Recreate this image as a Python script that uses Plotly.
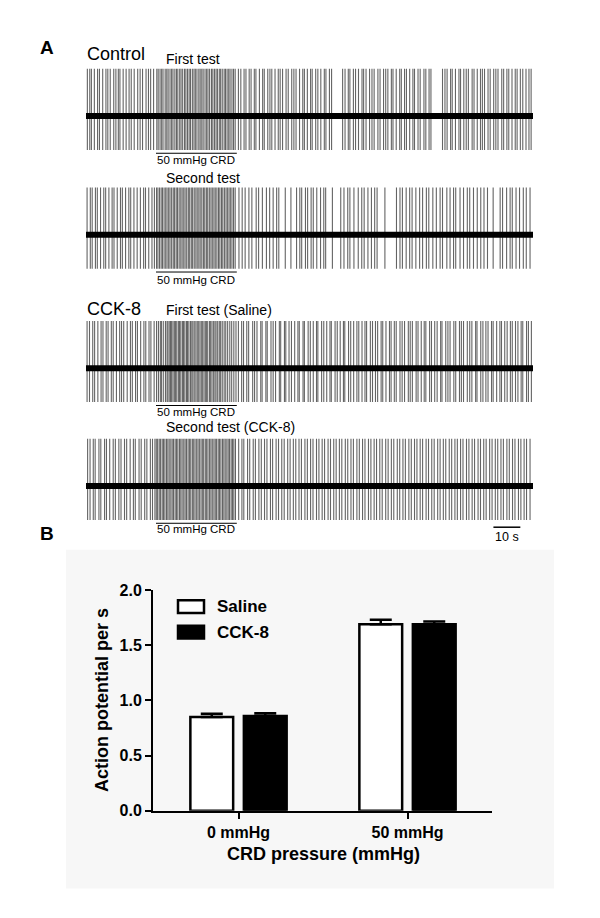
import plotly.graph_objects as go

W, H = 600, 918
FONT = "Liberation Sans, Arial, sans-serif"

# ---------------- Panel A data: spike times (s) ----------------
trace_labels = ["Control", "", "CCK-8", ""]
trace_titles = ["First test", "Second test", "First test (Saline)", "Second test (CCK-8)"]
crd_start, crd_end = 26.0, 56.0          # 50 mmHg CRD period (s)
crd_label = "50 mmHg CRD"
scale_bar = (151.3, 161.3)              # 10 s scale bar
scale_label = "10 s"
record_length = 166.0

spikes_control_1 = [
    0.5, 1.4, 2.0, 3.1, 4.3, 5.0, 6.2, 7.4, 8.1, 9.0, 10.3, 11.1, 12.0, 12.6, 13.8, 14.9, 16.0, 16.8,
    17.9, 19.2, 20.1, 21.0, 22.3, 23.2, 24.0, 25.1,
    26.3, 26.8, 27.5, 28.1, 28.6, 29.4, 30.0, 30.5, 31.2, 31.8, 32.3, 33.0, 33.6, 34.1, 34.8, 35.3,
    35.9, 36.6, 37.1, 37.7, 38.3, 38.8, 39.5, 40.1, 40.6, 41.2, 41.9, 42.4, 43.0, 43.5, 44.2, 44.8,
    45.3, 45.9, 46.6, 47.1, 47.7, 48.3, 48.8, 49.5, 50.0, 50.6, 51.3, 51.8, 52.4, 53.0, 53.5, 54.2,
    54.8, 55.4,
    56.6, 57.5, 58.7, 59.4, 60.6, 61.3, 62.5, 63.1, 64.4, 65.6, 66.2, 67.5, 68.3, 69.0, 70.2, 71.4,
    72.1, 73.0, 74.3, 75.1, 76.4, 77.2, 78.0, 79.3, 80.5, 81.1, 82.2, 83.4, 84.0, 85.3, 86.1, 87.2,
    88.5, 89.1, 90.4, 91.2, 95.3, 96.2, 97.4, 98.0, 99.3, 100.1, 101.2, 102.5, 103.1, 104.0, 105.3,
    106.2, 107.0, 108.4, 109.2, 110.5, 111.3, 112.1, 113.4, 114.0, 115.2, 116.5, 117.1, 118.3, 119.0,
    120.2, 121.4, 122.0, 123.3, 124.1, 125.5, 126.2, 127.4, 128.1, 132.4, 133.3, 134.1, 135.4, 136.0,
    137.2, 138.5, 139.1, 140.3, 141.2, 142.0, 143.4, 144.1, 145.3, 146.5, 147.2, 148.0, 149.3, 150.1,
    151.4, 152.2, 153.0, 154.4, 155.1, 156.3, 157.0, 158.2, 159.4, 160.1, 161.3, 162.2, 163.4, 164.5,
    165.3,
]
spikes_control_2 = [
    0.4, 1.6, 2.3, 3.5, 4.2, 5.4, 6.6, 7.3, 8.5, 9.7, 10.4, 11.6, 12.8, 13.5, 14.7, 15.9, 16.6, 17.8,
    19.0, 20.2, 21.4, 22.1, 23.3, 24.5, 25.4,
    26.2, 26.7, 27.3, 27.9, 28.4, 29.0, 29.6, 30.1, 30.7, 31.2, 31.8, 32.4, 32.9, 33.5, 34.0, 34.6,
    35.2, 35.7, 36.3, 36.8, 37.4, 38.0, 38.5, 39.1, 39.6, 40.2, 40.8, 41.3, 41.9, 42.4, 43.0, 43.6,
    44.1, 44.7, 45.2, 45.8, 46.4, 46.9, 47.5, 48.0, 48.6, 49.2, 49.7, 50.3, 50.8, 51.4, 52.0, 52.5,
    53.1, 53.6, 54.2, 54.8, 55.4,
    56.8, 58.0, 59.1, 60.5, 61.6, 63.2, 64.1, 65.5, 67.0, 68.2, 69.5, 70.8, 71.6, 74.0, 76.1, 78.2,
    79.4, 80.1, 81.5, 82.3, 83.6, 84.4, 85.7, 87.1, 88.3, 89.0, 91.5, 94.6, 95.8, 97.2, 98.0, 99.5,
    101.1, 102.4, 103.3, 104.7, 106.0, 107.2, 108.1, 111.0, 115.3, 116.6, 117.5, 118.9, 120.2, 121.1,
    122.5, 123.9, 125.0, 126.4, 127.3, 128.8, 130.1, 131.5, 132.4, 134.0, 135.2, 136.5, 137.3, 138.9,
    140.2, 141.6, 142.5, 143.9, 145.3, 146.6, 147.8, 149.1, 151.2, 153.8, 154.7, 156.2, 157.5, 158.3,
    159.7, 161.0, 162.4, 163.5, 164.9,
]
spikes_cck_1 = [
    0.4, 1.3, 2.5, 3.2, 4.4, 5.6, 6.3, 7.5, 8.2, 9.4, 10.1, 11.3, 12.5, 13.2, 14.0, 15.3, 16.5, 17.2,
    18.4, 19.1, 20.3, 21.5, 22.2, 23.4, 24.1, 25.3,
    26.2, 26.9, 27.6, 28.0, 28.7, 29.5, 30.1, 30.4, 30.9, 31.4, 31.8, 32.3, 32.8, 33.2, 33.7, 34.3,
    34.7, 35.2, 35.8, 36.2, 36.7, 37.3, 37.7, 38.2, 38.8, 39.3, 39.7, 40.2, 40.8, 41.3, 41.7, 42.3,
    42.8, 43.2, 43.8, 44.3, 44.7, 45.2, 45.9, 46.3, 46.8, 47.4, 47.9, 48.3, 48.9, 49.5, 50.0, 50.6,
    51.3, 51.9, 52.6, 53.4, 54.1, 54.9, 55.7,
    56.6, 57.8, 58.5, 59.7, 60.4, 61.9, 62.6, 63.5, 64.9, 65.4, 66.8, 67.3, 68.7, 69.5, 70.4, 71.8,
    72.3, 73.7, 74.2, 75.4, 76.3, 77.5, 78.7, 79.2, 80.6, 81.1, 82.5, 83.3, 84.4, 85.6, 86.1, 87.5,
    88.3, 89.4, 90.6, 91.1, 92.5, 93.3, 94.4, 95.6, 96.1, 97.5, 98.3, 99.4, 100.6, 101.3, 102.5, 103.6,
    104.2, 105.6, 106.4, 107.5, 108.3, 109.6, 110.2, 111.4, 112.7, 113.3, 114.5, 115.2, 116.6, 117.4,
    118.3, 119.7, 120.4, 121.2, 122.6, 123.3, 124.5, 125.6, 126.2, 127.6, 128.3, 129.5, 130.4, 131.7,
    132.2, 133.6, 134.4, 135.2, 136.6, 137.3, 138.7, 139.4, 140.2, 141.6, 142.5, 143.3, 144.7, 145.2,
    146.6, 147.4, 148.5, 149.3, 150.6, 151.2, 152.5, 153.7, 154.3, 155.5, 156.4, 157.6, 158.3, 159.5,
    160.4, 161.6, 162.2, 163.6, 164.3, 165.4,
]
spikes_cck_2 = [
    0.6, 1.5, 2.7, 3.4, 4.8, 5.5, 6.9, 7.6, 8.8, 10.1, 10.9, 12.2, 13.0, 14.3, 15.1, 16.4, 17.6, 18.3,
    19.7, 20.5, 21.8, 22.6, 23.9, 24.7, 25.6,
    26.1, 26.6, 27.2, 27.7, 28.3, 28.8, 29.3, 29.9, 30.4, 30.9, 31.5, 32.0, 32.5, 33.1, 33.6, 34.1,
    34.7, 35.2, 35.7, 36.3, 36.8, 37.3, 37.9, 38.4, 38.9, 39.5, 40.0, 40.5, 41.1, 41.6, 42.1, 42.7,
    43.2, 43.7, 44.3, 44.8, 45.3, 45.9, 46.4, 46.9, 47.5, 48.0, 48.5, 49.1, 49.6, 50.1, 50.7, 51.2,
    51.7, 52.3, 52.8, 53.3, 53.9, 54.4, 54.9, 55.5,
    56.7, 57.9, 58.6, 60.0, 60.8, 62.1, 62.9, 64.2, 65.1, 66.3, 67.2, 68.5, 69.3, 70.6, 71.5, 72.7,
    73.6, 74.9, 75.8, 77.0, 77.9, 79.1, 80.0, 81.3, 82.2, 83.4, 84.3, 85.6, 86.5, 87.7, 88.6, 89.9,
    90.8, 92.0, 92.9, 94.1, 95.0, 96.3, 97.2, 98.4, 99.3, 100.6, 101.5, 102.7, 103.6, 104.9, 105.8,
    107.0, 107.9, 109.1, 110.0, 111.3, 112.2, 113.4, 114.3, 115.6, 116.5, 117.7, 118.6, 119.9, 120.8,
    122.0, 122.9, 124.1, 125.0, 126.3, 127.2, 128.4, 129.3, 130.6, 131.5, 132.7, 133.6, 134.9, 135.8,
    137.0, 137.9, 139.1, 140.0, 141.3, 142.2, 143.4, 144.3, 145.6, 146.5, 147.7, 148.6, 149.9, 150.8,
    152.0, 152.9, 154.1, 155.0, 156.3, 157.2, 158.4, 159.3, 160.6, 161.5, 162.7, 163.6, 164.9,
]
all_spikes = [spikes_control_1, spikes_control_2, spikes_cck_1, spikes_cck_2]

# ---------------- Panel B data ----------------
pressure_categories = ["0 mmHg", "50 mmHg"]
saline_means = [0.85, 1.69]
saline_sem = [0.03, 0.04]
cck_means = [0.86, 1.69]
cck_sem = [0.025, 0.025]
y_ticks = [0.0, 0.5, 1.0, 1.5, 2.0]
y_title = "Action potential per s"
x_title = "CRD pressure (mmHg)"


def px(x):
    return x / W


def py(y):
    return 1 - y / H


fig = go.Figure()

baselines = [110, 231, 367, 487]
half = 57.6
SPIKE_UP, SPIKE_DOWN = 1.0, -0.72

for i, spikes in enumerate(all_spikes):
    yname = "y" if i == 0 else f"y{i+1}"
    xs, ys = [], []
    for t in spikes:
        xs += [t, t, None]
        ys += [SPIKE_DOWN, SPIKE_UP, None]
    fig.add_trace(go.Scatter(x=xs, y=ys, mode="lines", xaxis="x", yaxis=yname,
                             line=dict(color="#646464", width=1.1), showlegend=False,
                             hoverinfo="skip"))
    fig.add_trace(go.Scatter(x=[0, record_length], y=[0, 0], mode="lines", xaxis="x", yaxis=yname,
                             line=dict(color="black", width=6), showlegend=False, hoverinfo="skip"))

fig.add_trace(go.Bar(name="Saline", x=pressure_categories, y=saline_means, xaxis="x2", yaxis="y5",
                     marker=dict(color="white", line=dict(color="black", width=2.5)),
                     error_y=dict(type="data", array=saline_sem, arrayminus=[0, 0], symmetric=False,
                                  color="black", thickness=2.5, width=11),
                     showlegend=False))
fig.add_trace(go.Bar(name="CCK-8", x=pressure_categories, y=cck_means, xaxis="x2", yaxis="y5",
                     marker=dict(color="black", line=dict(color="black", width=2.5)),
                     error_y=dict(type="data", array=cck_sem, arrayminus=[0, 0], symmetric=False,
                                  color="black", thickness=2.5, width=11),
                     showlegend=False))

layout = dict(
    width=W, height=H, margin=dict(l=0, r=0, t=0, b=0),
    paper_bgcolor="white", plot_bgcolor="rgba(0,0,0,0)",
    font=dict(family=FONT, color="black"),
    barmode="group", bargap=0.367, bargroupgap=0.2,
    xaxis=dict(domain=[px(86), px(533)], range=[0, record_length], visible=False, anchor="y"),
    xaxis2=dict(domain=[px(153), px(492)], range=[-0.506, 1.5], type="category", anchor="y5",
                showline=True, linecolor="black", linewidth=2, ticks="outside", ticklen=6,
                tickwidth=2, tickcolor="black", showgrid=False, zeroline=False,
                tickfont=dict(family=FONT, size=16, color="black", weight="bold")),
    yaxis5=dict(domain=[py(818), py(593)], range=[0, 2.0], anchor="x2",
                tickvals=y_ticks, ticktext=[f"{v:.1f}" for v in y_ticks],
                showline=True, linecolor="black", linewidth=2, ticks="outside", ticklen=6,
                tickwidth=2, tickcolor="black", showgrid=False, zeroline=False,
                tickfont=dict(family=FONT, size=16, color="black", weight="bold")),
)
for i, b in enumerate(baselines):
    key = "yaxis" if i == 0 else f"yaxis{i+1}"
    layout[key] = dict(domain=[py(b + half), py(b - half)], range=[-1.2, 1.2], visible=False,
                       anchor="x")
fig.update_layout(**layout)

shapes = []
annotations = []

shapes.append(dict(type="rect", xref="paper", yref="paper", x0=px(66), x1=px(554),
                   y0=py(897), y1=py(552), fillcolor="#f7f7f7", line=dict(width=0), layer="below"))

crd_line_y = [148, 269, 405, 525]
crd_text_y = [155, 277, 412, 531]
for ly, ty in zip(crd_line_y, crd_text_y):
    shapes.append(dict(type="line", xref="x", yref="paper", x0=crd_start, x1=crd_end,
                       y0=py(ly), y1=py(ly), line=dict(color="black", width=1)))
    annotations.append(dict(text=crd_label, xref="x", yref="paper", x=(crd_start + crd_end) / 2,
                            y=py(ty), showarrow=False, xanchor="center", yanchor="middle",
                            font=dict(family=FONT, size=11.5, color="black")))

shapes.append(dict(type="line", xref="x", yref="paper", x0=scale_bar[0], x1=scale_bar[1],
                   y0=py(529), y1=py(529), line=dict(color="black", width=1.5)))
annotations.append(dict(text=scale_label, xref="x", yref="paper", x=(scale_bar[0] + scale_bar[1]) / 2,
                        y=py(539), showarrow=False, xanchor="center", yanchor="middle",
                        font=dict(family=FONT, size=12.5, color="black")))

title_y = [52, 173, 308, 427]
for tt, ty in zip(trace_titles, title_y):
    annotations.append(dict(text=tt, xref="paper", yref="paper", x=px(164), y=py(ty),
                            showarrow=False, xanchor="left", yanchor="middle",
                            font=dict(family=FONT, size=14, color="black")))
annotations.append(dict(text=trace_labels[0], xref="paper", yref="paper", x=px(85), y=py(47),
                        showarrow=False, xanchor="left", yanchor="middle",
                        font=dict(family=FONT, size=18, color="black")))
annotations.append(dict(text=trace_labels[2], xref="paper", yref="paper", x=px(85), y=py(307),
                        showarrow=False, xanchor="left", yanchor="middle",
                        font=dict(family=FONT, size=18, color="black")))

annotations.append(dict(text="<b>A</b>", xref="paper", yref="paper", x=px(47), y=py(40),
                        showarrow=False, xanchor="center", yanchor="middle",
                        font=dict(family=FONT, size=19, color="black")))
annotations.append(dict(text="<b>B</b>", xref="paper", yref="paper", x=px(47), y=py(535),
                        showarrow=False, xanchor="center", yanchor="middle",
                        font=dict(family=FONT, size=19, color="black")))

annotations.append(dict(text=f"<b>{y_title}</b>", xref="paper", yref="paper", x=px(102), y=py(705),
                        showarrow=False, textangle=-90, xanchor="center", yanchor="middle",
                        font=dict(family=FONT, size=18, color="black")))
annotations.append(dict(text=f"<b>{x_title}</b>", xref="paper", yref="paper", x=px(323), y=py(862),
                        showarrow=False, xanchor="center", yanchor="middle",
                        font=dict(family=FONT, size=18, color="black")))

legend_items = [("Saline", "white", 610), ("CCK-8", "black", 636)]
for name, fill, cy in legend_items:
    shapes.append(dict(type="rect", xref="paper", yref="paper", x0=px(178), x1=px(204),
                       y0=py(cy + 6.5), y1=py(cy - 6.5), fillcolor=fill,
                       line=dict(color="black", width=2.5)))
    annotations.append(dict(text=f"<b>{name}</b>", xref="paper", yref="paper", x=px(215), y=py(cy),
                            showarrow=False, xanchor="left", yanchor="middle",
                            font=dict(family=FONT, size=17, color="black")))

fig.update_layout(shapes=shapes, annotations=annotations)
fig.write_html("out.html", config={"displayModeBar": False},
               post_script="document.body.style.margin='0';document.body.style.overflow='hidden';")
